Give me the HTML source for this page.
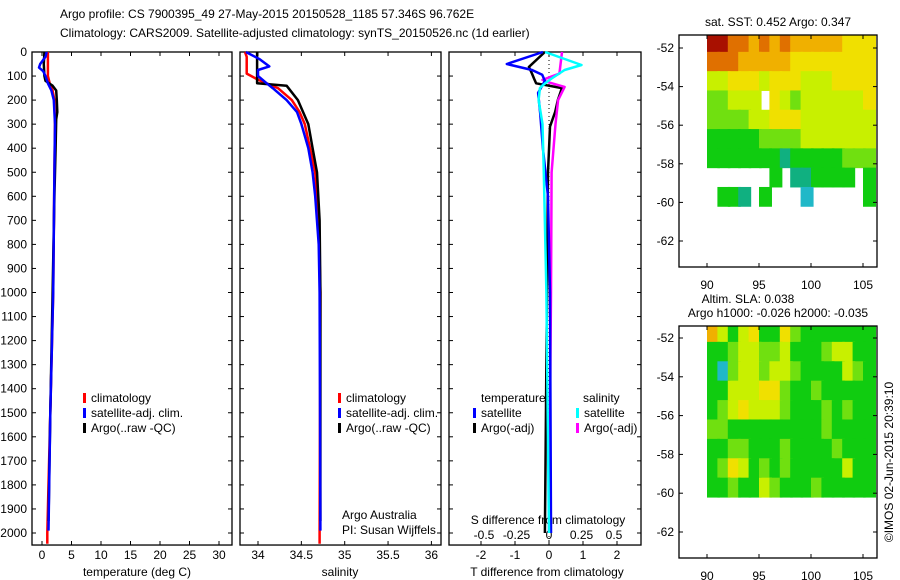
<!DOCTYPE html>
<html><head><meta charset="utf-8"><style>
body{margin:0;background:#fff;}
svg{display:block;font-family:"Liberation Sans",sans-serif;font-size:12px;}
</style></head><body>
<svg id="c" width="900" height="580">
<rect width="900" height="580" fill="#fff"/>
<text x="60" y="18">Argo profile: CS 7900395_49 27-May-2015 20150528_1185 57.346S 96.762E</text>
<text x="60" y="37">Climatology: CARS2009. Satellite-adjusted climatology: synTS_20150526.nc (1d earlier)</text>
<g id="g"></g>
</svg>
<script>
// ---- data ----
const depthTicks=[0,100,200,300,400,500,600,700,800,900,1000,1100,1200,1300,1400,1500,1600,1700,1800,1900,2000];
const tempTicks=[0,5,10,15,20,25,30];
const salTicks=[34,34.5,35,35.5,36];
const salTickLabels=["34","34.5","35","35.5","36"];
const tdTicks=[-2,-1,0,1,2];
const sdTicks=[-0.5,-0.25,0,0.25,0.5];
const sdTickLabels=["-0.5","-0.25","0","0.25","0.5"];
// temperature profiles [depth, value]
const tempClimDepth=[0,50,100,130,160,200,300,500,1000,1500,2000,2045];
const tempClimVal=[1.0,1.0,1.0,1.3,1.8,2.1,2.2,2.1,1.9,1.4,0.9,0.9];
const tempSatDepth=[0,20,50,65,80,100,130,160,200,300,500,1000,1500,1990];
const tempSatVal=[0.8,0.6,-0.3,-0.5,0.2,0.6,1.0,1.6,2.0,2.2,2.1,1.9,1.4,1.1];
const tempArgoDepth=[0,50,100,120,140,160,200,250,280,400,600,1000,1500,1950];
const tempArgoVal=[0.4,0.3,0.4,0.6,1.8,2.4,2.5,2.6,2.4,2.3,2.1,1.8,1.4,1.1];
// salinity profiles
const salClimDepth=[0,20,90,115,150,200,250,300,400,500,700,1000,2000,2045];
const salClimVal=[33.85,33.87,33.87,34.0,34.23,34.39,34.48,34.54,34.6,34.66,34.7,34.72,34.71,34.71];
const salSatDepth=[0,30,60,75,100,130,150,200,250,300,400,500,600,800,1000,1990];
const salSatVal=[33.86,34.02,34.13,34.0,34.0,34.1,34.17,34.33,34.45,34.5,34.58,34.63,34.66,34.7,34.71,34.72];
const salArgoDepth=[0,130,140,200,300,400,500,700,1000,1950];
const salArgoVal=[33.99,33.99,34.33,34.46,34.58,34.63,34.68,34.71,34.72,34.72];
// differences
const tdSatDepth=[0,50,75,95,120,170,255,400,600,1000,2000];
const tdSatVal=[-0.18,-1.24,-0.5,-0.2,-0.12,-0.32,-0.26,-0.18,-0.03,0.03,0.06];
const tdArgoDepth=[0,62,90,110,130,150,200,250,310,500,1000,2000];
const tdArgoVal=[-0.12,-0.59,-0.5,-0.44,-0.38,0.38,0.26,0.18,0.03,-0.03,-0.06,-0.12];
const sdSatDepth=[0,54,75,110,130,150,200,300,500,1000,2000];
const sdSatVal=[-0.03,0.25,0.12,0.02,-0.03,-0.07,-0.08,-0.05,-0.04,-0.02,0.0];
const sdArgoDepth=[0,90,116,125,145,200,300,500,1000,2000];
const sdArgoVal=[0.1,0.08,-0.05,-0.01,0.12,0.07,0.05,0.02,0.015,0.0];
// maps
const mapLonTicks=[90,95,100,105];
const mapLatTicks=[-52,-54,-56,-58,-60,-62];
const gridLon0=90, gridLat0=-51.2, gridStep=1;
const sstGrid=[
[9,9,8,8,7,8,7,8,7,7,7,7,7,6,6,6],
[8,8,8,7,7,7,7,7,6,6,6,6,6,6,6,6],
[5,5,6,6,6,5,6,6,6,5,5,5,6,6,6,6],
[4,4,5,5,5,null,6,5,4,5,5,5,5,5,5,6],
[4,4,4,4,5,5,6,6,6,5,5,5,5,5,5,5],
[3,3,3,3,3,4,4,4,4,5,5,5,5,5,5,5],
[3,3,3,3,3,3,3,2.5,3,3,3,3,3,4,4,4],
[null,null,null,null,null,null,3,null,2.5,2.5,3,3,3,3,null,3],
[null,3,3,2.5,null,3,null,null,null,2,null,null,null,null,null,3]];
const slaGrid=[
[7,5,3,5,6,3,3,6,4,3,3,3,3,3,3,3],
[3,3,4,5,5,4,4,5,3,3,3,4,5,5,3,3],
[3,2,4,5,5,4,5,5,4,3,3,3,3,5,4,3],
[3,3,5,5,5,6,6,4,3,3,4,3,3,3,3,3],
[3,4,5,6,5,5,5,4,3,3,3,4,3,4,3,3],
[4,4,3,3,3,3,3,3,3,3,3,4,3,3,3,3],
[3,3,4,4,3,3,3,4,3,3,3,3,4,3,3,3],
[3,4,6,5,3,4,3,4,3,3,3,3,3,5,3,3],
[3,3,4,3,3,5,4,3,3,3,4,3,3,3,3,3]];

// ---- drawing ----
const NS="http://www.w3.org/2000/svg";
const G=document.getElementById('g');
function el(t,a,p){const e=document.createElementNS(NS,t);for(const k in a)e.setAttribute(k,a[k]);(p||G).appendChild(e);return e;}
function tx(x,y,s,anchor){const e=el('text',{x:x,y:y,'text-anchor':anchor||'start'});e.textContent=s;return e;}
const yD=d=>52+d*0.2405;
const P=[{l:32,r:232},{l:240,r:441},{l:449,r:641}];
const xT=v=>42+v*5.9;
const xS=v=>258+(v-34)*86.7;
const xTD=v=>549+v*34;
const xSD=v=>549+v*130;

P.forEach((p,i)=>{
  const b=el('rect',{x:p.l,y:52,width:p.r-p.l,height:yD(2050)-52,fill:'none',stroke:'#000','stroke-width':1.3});
  
  
  depthTicks.forEach(d=>{
    el('line',{x1:p.l,x2:p.l+4,y1:yD(d),y2:yD(d),stroke:'#000'});
    el('line',{x1:p.r,x2:p.r-4,y1:yD(d),y2:yD(d),stroke:'#000'});
    if(i==0){const t=tx(p.l-5,yD(d)+4,String(d),'end');
      
      }
  });
});
function xticks(ticks,labels,f,y0){ticks.forEach((v,k)=>{
  el('line',{x1:f(v),x2:f(v),y1:y0,y2:y0-4,stroke:'#000'});
  el('line',{x1:f(v),x2:f(v),y1:52,y2:56,stroke:'#000'});
  const t=tx(f(v),y0+14,labels[k],'middle');
  
  });}
const yb=yD(2050);
xticks(tempTicks,tempTicks.map(String),xT,yb);
xticks(salTicks,salTickLabels,xS,yb);
xticks(tdTicks,tdTicks.map(String),xTD,yb);
sdTicks.forEach((v,k)=>{const t=tx(xSD(v),539,sdTickLabels[k],'middle');
  
  });
[[137,'temperature (deg C)'],[340,'salinity'],[547,'T difference from climatology']].forEach(a=>{
  const t=tx(a[0],576,a[1],'middle');
  
  });
{const t=tx(548,524,'S difference from climatology','middle');
  
  }
el('line',{x1:549,x2:549,y1:52,y2:yb,stroke:'#000','stroke-dasharray':'1,3'});

function line(dep,val,f,color,name,w){
  const pts=dep.map((d,k)=>f(val[k]).toFixed(1)+','+yD(d).toFixed(1)).join(' ');
  const e=el('polyline',{points:pts,fill:'none',stroke:color,'stroke-width':w||2.5,'stroke-linejoin':'round'});
  
  
}
line(tempClimDepth,tempClimVal,xT,'#f00','temp-climatology-line');
line(tempArgoDepth,tempArgoVal,xT,'#000','temp-argo-line');
line(tempSatDepth,tempSatVal,xT,'#00f','temp-satellite-line');
line(salClimDepth,salClimVal,xS,'#f00','sal-climatology-line');
line(salArgoDepth,salArgoVal,xS,'#000','sal-argo-line');
line(salSatDepth,salSatVal,xS,'#00f','sal-satellite-line');
line(tdArgoDepth,tdArgoVal,xTD,'#000','tdiff-argo-line');
line(sdArgoDepth,sdArgoVal,xSD,'#f0f','sdiff-argo-line');
line(tdSatDepth,tdSatVal,xTD,'#00f','tdiff-satellite-line');
line(sdSatDepth,sdSatVal,xSD,'#0ff','sdiff-satellite-line');

function leg(x,y,color,label){
  const r=el('rect',{x:x,y:y-9,width:3,height:10,fill:color});
  
  
  const t=tx(x+8,y,label);
  
  
}
[[83,0],[338,0]].forEach(a=>{const x=a[0];
  leg(x,402,'#f00','climatology');leg(x,417,'#00f','satellite-adj. clim.');leg(x,432,'#000','Argo(..raw -QC)');});
{const t=tx(481,402,'temperature');}
{const t=tx(583,402,'salinity');}
leg(473,417,'#00f','satellite');leg(473,432,'#000','Argo(-adj)');
leg(576,417,'#0ff','satellite');leg(576,432,'#f0f','Argo(-adj)');
{const t=tx(342,519,'Argo Australia');}
{const t=tx(342,534,'PI: Susan Wijffels');}

// ---- maps ----
function col(v){
  const stops={2:'#20b8c8',2.5:'#10b080',3:'#10cc10',4:'#70e010',5:'#c8f000',6:'#f0e000',7:'#f0b000',8:'#e07000',9:'#a81000'};
  const k=Math.round(v*2)/2;return stops[k]||stops[Math.round(v)]||'#10cc10';}
function map(top,bot,lat52,lat62,grid,name){
  const L=679,R=877;
  const xL=lon=>707+(lon-90)*10.4;
  const yL=lat=>lat52+(lat+52)*(lat62-lat52)/(-10);
  grid.forEach((row,ri)=>row.forEach((v,ci)=>{
    if(v===null)return;
    const x0=xL(gridLon0+ci*gridStep),x1=Math.min(R,xL(gridLon0+(ci+1)*gridStep+0.2));
    const y0=Math.max(top,yL(gridLat0-ri*gridStep)),y1=yL(gridLat0-(ri+1)*gridStep);
    const c=el('rect',{x:x0,y:y0,width:x1-x0+0.5,height:y1-y0+0.5,fill:col(v)});
    
    
  }));
  const b=el('rect',{x:L,y:top,width:R-L,height:bot-top,fill:'none',stroke:'#000','stroke-width':1.3});
  
  
  mapLatTicks.forEach(la=>{const y=yL(la);
    el('line',{x1:L,x2:L+4,y1:y,y2:y,stroke:'#000'});el('line',{x1:R,x2:R-4,y1:y,y2:y,stroke:'#000'});
    const t=tx(L-5,y+4,String(la),'end');});
  mapLonTicks.forEach(lo=>{const x=xL(lo);
    el('line',{x1:x,x2:x,y1:bot,y2:bot-4,stroke:'#000'});el('line',{x1:x,x2:x,y1:top,y2:top+4,stroke:'#000'});
    const t=tx(x,bot+22,String(lo),'middle');});
}
map(35,267,48,241,sstGrid,'sst-map');
map(326,558,338,532,slaGrid,'sla-map');
{const t=tx(778,26,'sat. SST: 0.452 Argo: 0.347','middle');}
{const t=tx(748,303,'Altim. SLA: 0.038','middle');}
{const t=tx(778,317,'Argo h1000: -0.026 h2000: -0.035','middle');}
{const t=tx(0,0,'©IMOS 02-Jun-2015 20:39:10','middle');t.setAttribute('transform','translate(893,462) rotate(-90)');
 }
</script>
</body></html>
